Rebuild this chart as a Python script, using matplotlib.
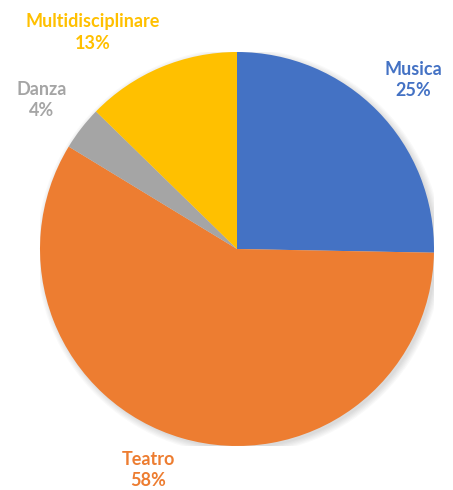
import matplotlib
matplotlib.use("Agg")
import matplotlib.pyplot as plt
from matplotlib.patches import Circle

categories = ["Musica", "Teatro", "Danza", "Multidisciplinare"]
values = [25.3, 58.4, 3.6, 12.7]
pct_labels = ["25%", "58%", "4%", "13%"]
colors = ["#4472C4", "#ED7D31", "#A5A5A5", "#FFC000"]
label_pos = [(0.893, 0.858), (-0.452, -1.122), (-0.99, 0.756), (-0.731, 1.10)]

fig = plt.figure(figsize=(4.53, 4.90), dpi=100)
ax = fig.add_axes([40/453, 44/490, 394/453, 394/490])
ax.set_xlim(-1, 1)
ax.set_ylim(-1, 1)
ax.set_aspect("equal")
ax.axis("off")

# subtle shadow
for i in range(6):
    ax.add_patch(Circle((0.012, -0.012), 1.0 + 0.006 * i, color="black",
                        alpha=0.025, lw=0, zorder=0))

ax.pie(values, colors=colors, startangle=90, counterclock=False,
       radius=1.0, wedgeprops=dict(linewidth=0))
ax.set_xlim(-1, 1)
ax.set_ylim(-1, 1)

for cat, p, c, (x, y) in zip(categories, pct_labels, colors, label_pos):
    ax.text(x, y, f"{cat}\n{p}", color=c, ha="center", va="center",
            fontsize=13, fontweight="bold", family=["Lato", "DejaVu Sans"],
            linespacing=1.32, clip_on=False)

fig.savefig("out.png", dpi=100)
